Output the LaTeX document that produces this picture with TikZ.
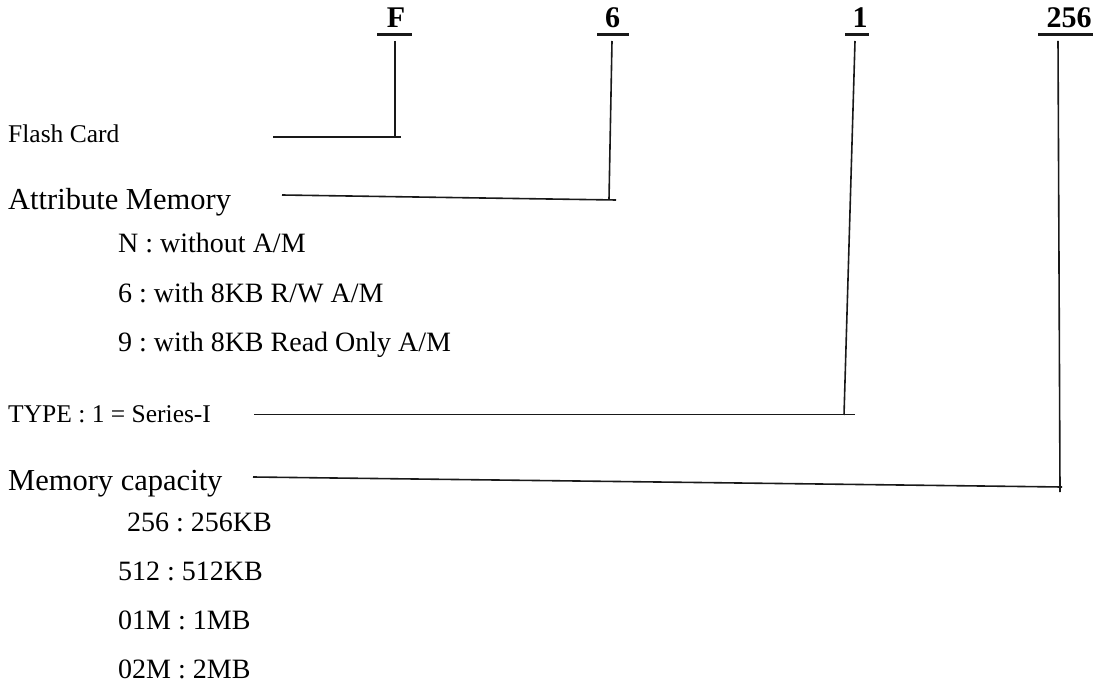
\documentclass[tikz,border=0pt]{standalone}
\usepackage{fontspec}
\setmainfont{Liberation Serif}
\frenchspacing
\begin{document}
\begin{tikzpicture}[x=1pt,y=-1pt,
  code/.style={font=\fontsize{30}{32}\selectfont\bfseries, anchor=base, inner sep=0pt},
  lbl/.style={anchor=base west, inner sep=0pt},
  conn/.style={line width=1.6pt, black!90},
  uline/.style={line width=3pt, black!90}]
\useasboundingbox (0,0) rectangle (1099,684);
% code letters
\node[code] (cF) at (396,28) {F};
\node[code] (c6) at (612.5,28) {6};
\node[code] (c1) at (860,28) {1};
\node[code] (c256) at (1069,28) {256};
% underlines
\draw[uline] (377,34.5) -- (412,34.5);
\draw[uline] (597,34.5) -- (629,34.5);
\draw[uline] (845,34.5) -- (869,34.5);
\draw[uline] (1038,34.5) -- (1093,34.5);
% labels
\node[lbl, font=\fontsize{25.5}{28}\selectfont] (fc) at (8,142.5) {Flash Card};
\node[lbl, font=\fontsize{30.5}{33}\selectfont] (am) at (8,210) {Attribute Memory};
\node[lbl, font=\fontsize{28}{30}\selectfont] (amN) at (118,253) {N : without A/M};
\node[lbl, font=\fontsize{28}{30}\selectfont] (am6) at (118,302) {6 : with 8KB R/W A/M};
\node[lbl, font=\fontsize{28}{30}\selectfont] (am9) at (118,351) {9 : with 8KB Read Only A/M};
\node[lbl, font=\fontsize{25.5}{28}\selectfont] (ty) at (8,422) {TYPE : 1 = Series-I};
\node[lbl, font=\fontsize{30.5}{33}\selectfont] (mc) at (8,490) {Memory capacity};
\node[lbl, font=\fontsize{28}{30}\selectfont] (m1) at (127,531) {256 : 256KB};
\node[lbl, font=\fontsize{28}{30}\selectfont] (m2) at (118,580) {512 : 512KB};
\node[lbl, font=\fontsize{28}{30}\selectfont] (m3) at (118,629) {01M : 1MB};
\node[lbl, font=\fontsize{28}{30}\selectfont] (m4) at (118,678) {02M : 2MB};
% connector coordinates
\coordinate (Ftop) at (395,41);
\coordinate (Fbot) at (395,137);
\coordinate (FLs) at (273,137);
\coordinate (FLe) at (401,137);
\coordinate (Stop) at (612,41);
\coordinate (Sbot) at (609,199);
\coordinate (SLs) at (282,195);
\coordinate (SLe) at (616,200);
\coordinate (Otop) at (855,41);
\coordinate (Obot) at (844,415);
\coordinate (OLs) at (254,414.5);
\coordinate (OLe) at (855,414.5);
\coordinate (Ttop) at (1058,41);
\coordinate (Tbot) at (1060,492);
\coordinate (TLs) at (253,477);
\coordinate (TLe) at (1062,487);
% connectors
\draw[conn] (Ftop) -- (Fbot);
\draw[conn] (FLs) -- (FLe);
\draw[conn] (Stop) -- (Sbot);
\draw[conn] (SLs) -- (SLe);
\draw[conn] (Otop) -- (Obot);
\draw[conn] (OLs) -- (OLe);
\draw[conn] (Ttop) -- (Tbot);
\draw[conn] (TLs) -- (TLe);
\end{tikzpicture}
\end{document}
